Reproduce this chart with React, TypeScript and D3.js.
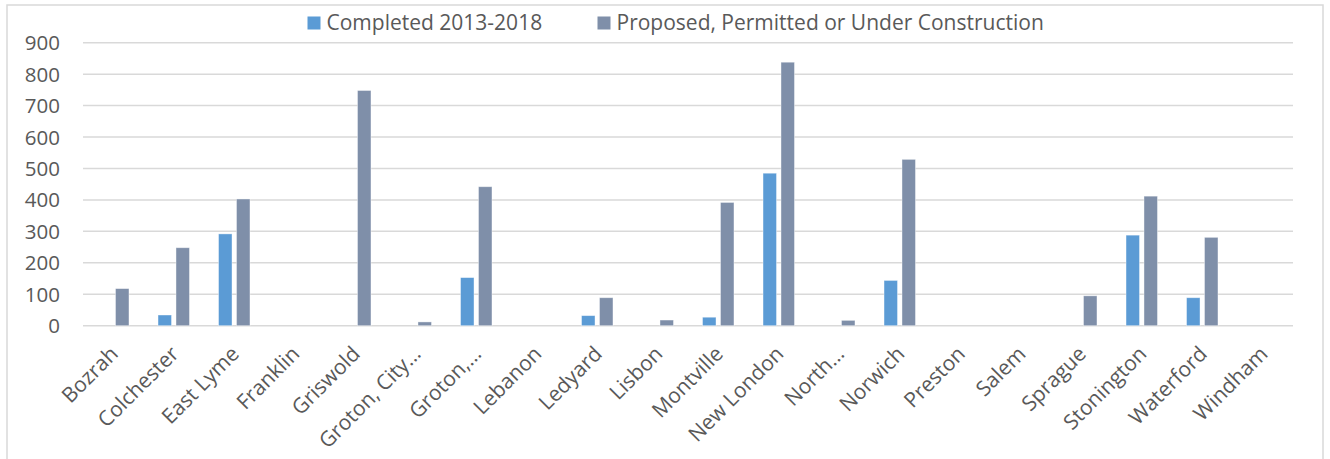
import React from "react";
import * as d3 from "d3";

const categories = [
  "Bozrah", "Colchester", "East Lyme", "Franklin", "Griswold", "Groton, City…",
  "Groton,…", "Lebanon", "Ledyard", "Lisbon", "Montville", "New London",
  "North…", "Norwich", "Preston", "Salem", "Sprague", "Stonington", "Waterford", "Windham",
];
const completed = [0, 34, 292, 0, 0, 0, 153, 0, 32, 0, 27, 485, 0, 144, 0, 0, 0, 288, 89, 0];
const proposed = [118, 248, 403, 0, 748, 12, 442, 0, 89, 18, 392, 838, 17, 529, 0, 0, 95, 412, 281, 0];
const seriesNames = ["Completed 2013-2018", "Proposed, Permitted or Under Construction"];
const yTicks = [0, 100, 200, 300, 400, 500, 600, 700, 800, 900];

const W = 1330;
const H = 459;
const colors = ["#5B9BD5", "#7F8FA9"];
const FONT = "'Open Sans', sans-serif";
const TXT = "#595959";

export default function App() {
  const x = d3.scaleBand<string>().domain(categories).range([83, 1293]).padding(0);
  const y = d3.scaleLinear().domain([0, 900]).range([325.7, 42.7]);
  const bw = x.bandwidth();
  const barW = bw * 0.223;
  const gap = bw * 0.074;
  const series = [completed, proposed];

  return (
    <svg width={W} height={H} style={{ position: "absolute", left: 0, top: 0, background: "#fff" }} fontFamily={FONT}>
      <rect x={0} y={0} width={W} height={H} fill="#fff" />
      <rect x={7} y={5} width={1316} height={470} fill="none" stroke="#D9D9D9" strokeWidth={1.5} />
      {yTicks.map((t) => (
        <g key={t}>
          <line x1={83} x2={1293} y1={y(t)} y2={y(t)} stroke="#D9D9D9" strokeWidth={1.5} />
          <text x={60} y={y(t) + 7.5} textAnchor="end" fontSize={20.5} fill={TXT}>{t}</text>
        </g>
      ))}
      {series.map((vals, si) =>
        vals.map((v, i) => {
          const c = (x(categories[i]) as number) + bw / 2;
          const bx = si === 0 ? c - gap / 2 - barW : c + gap / 2;
          if (v <= 0) return null;
          return (
            <rect key={`${si}-${i}`} x={bx} y={y(v)} width={barW} height={y(0) - y(v)}
              fill={colors[si]} stroke="#ffffff" strokeOpacity={0.5} strokeWidth={0.8} />
          );
        })
      )}
      {categories.map((cat) => {
        const c = (x(cat) as number) + bw / 2;
        return (
          <text key={cat} transform={`translate(${c + 1},${350}) rotate(-45)`} textAnchor="end"
            dy="0.35em" fontSize={21} fill={TXT}>{cat}</text>
        );
      })}
      {/* legend */}
      <rect x={307.5} y={16.5} width={13} height={13} fill={colors[0]} />
      <text x={326.5} y={30} fontSize={21} fill={TXT}>{seriesNames[0]}</text>
      <rect x={597.5} y={16.5} width={13} height={13} fill={colors[1]} />
      <text x={616.5} y={30} fontSize={21} fill={TXT}>{seriesNames[1]}</text>
    </svg>
  );
}
